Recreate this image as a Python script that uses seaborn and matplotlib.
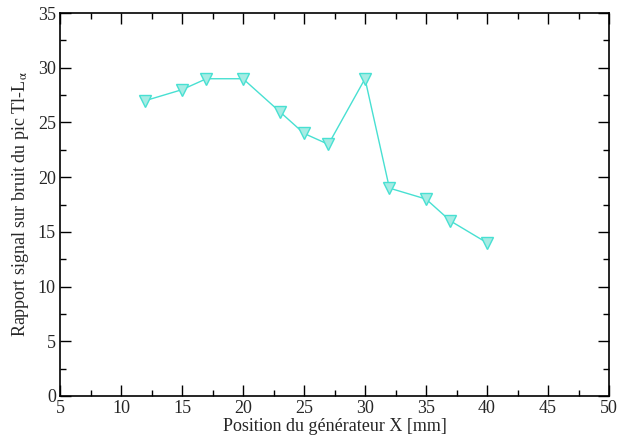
import matplotlib
matplotlib.use('Agg')
import matplotlib.pyplot as plt
import seaborn as sns
import pandas as pd
from matplotlib.ticker import MultipleLocator

sns.set_style("ticks")
plt.rcParams['font.family'] = ['Liberation Serif', 'DejaVu Serif']
plt.rcParams['mathtext.fontset'] = 'stix'

position = [12, 15, 17, 20, 23, 25, 27, 30, 32, 35, 37, 40]
rapport = [27, 28, 29, 29, 26, 24, 23, 29, 19, 18, 16, 14]

data = pd.DataFrame({"position": position, "rapport": rapport})

fig = plt.figure(figsize=(6.27, 4.37), dpi=100)
ax = fig.add_axes([0.0957, 0.094, 0.8756, 0.876])

sns.lineplot(data=data, x="position", y="rapport", ax=ax, color="#48e0d2",
             linewidth=1.0, marker="v", markersize=9,
             markerfacecolor="#a6ece4", markeredgecolor="#48e0d2",
             markeredgewidth=1.0)

ax.set_xlim(5, 50)
ax.set_ylim(0, 35)
ax.xaxis.set_major_locator(MultipleLocator(5))
ax.xaxis.set_minor_locator(MultipleLocator(2.5))
ax.yaxis.set_major_locator(MultipleLocator(5))
ax.yaxis.set_minor_locator(MultipleLocator(2.5))
ax.tick_params(which="both", direction="in", top=True, right=True,
               labelsize=13, color="black", pad=3)
ax.tick_params(which="major", length=8, width=1)
ax.tick_params(which="minor", length=4, width=1)
for s in ax.spines.values():
    s.set_linewidth(1.2)
    s.set_color("black")

ax.set_xlabel("Position du générateur X [mm]", fontsize=13, labelpad=1)
ax.set_ylabel(r"Rapport signal sur bruit du pic Tl-L$_\mathrm{\alpha}$", fontsize=13, labelpad=5)

plt.savefig("out.png", dpi=100)
